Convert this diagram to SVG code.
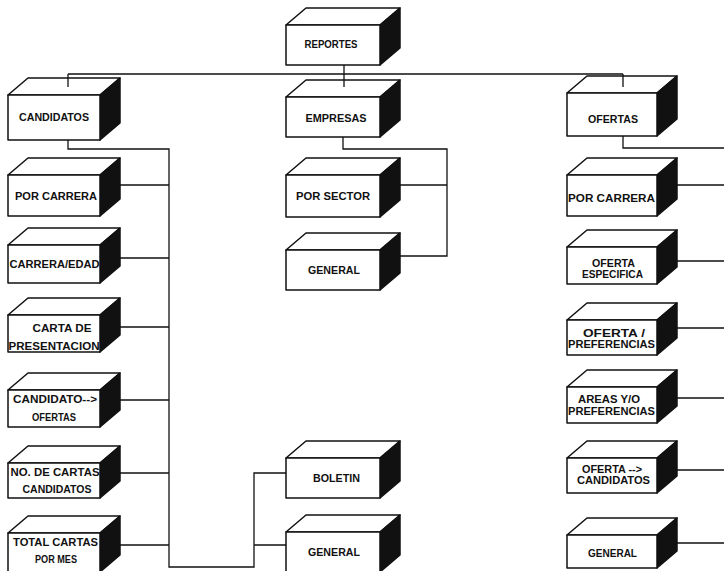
<svg xmlns="http://www.w3.org/2000/svg" width="724" height="571" viewBox="0 0 724 571">
  <style>
    .face { fill: #ffffff; stroke: #111111; stroke-width: 1.5; stroke-linejoin: round; }
    .side { fill: #111111; stroke: #111111; stroke-width: 1.5; stroke-linejoin: round; }
    .wire { fill: none; stroke: #111111; stroke-width: 1.3; }
    text { font-family: "Liberation Sans", Arial, sans-serif; font-weight: bold; font-size: 11.5px; fill: #111111; text-anchor: middle; }
  </style>
  <rect width="724" height="571" fill="#ffffff"/>

  <!-- boxes: front rect, top face, black right face (depth 20 x 17) -->
  <g id="reportes">
    <polygon class="face" points="286,25 306,8 400,8 380,25"/>
    <polygon class="side" points="380,25 400,8 400,48 380,65"/>
    <rect class="face" x="286" y="25" width="94" height="40"/>
    <text x="331" y="48" textLength="53" lengthAdjust="spacingAndGlyphs">REPORTES</text>
  </g>

  <!-- left column -->
  <g id="candidatos">
    <polygon class="face" points="8,95 28,78 120,78 100,95"/>
    <polygon class="side" points="100,95 120,78 120,123 100,140"/>
    <rect class="face" x="8" y="95" width="92" height="45"/>
    <text x="54" y="121" textLength="70" lengthAdjust="spacingAndGlyphs">CANDIDATOS</text>
  </g>
  <g id="cand-por-carrera">
    <polygon class="face" points="8,175 28,158 120,158 100,175"/>
    <polygon class="side" points="100,175 120,158 120,199 100,216"/>
    <rect class="face" x="8" y="175" width="92" height="41"/>
    <text x="56" y="200" textLength="82" lengthAdjust="spacingAndGlyphs">POR CARRERA</text>
  </g>
  <g id="carrera-edad">
    <polygon class="face" points="8,245 28,228 120,228 100,245"/>
    <polygon class="side" points="100,245 120,228 120,266 100,283"/>
    <rect class="face" x="8" y="245" width="92" height="38"/>
    <text x="54.5" y="268" textLength="90" lengthAdjust="spacingAndGlyphs">CARRERA/EDAD</text>
  </g>
  <g id="carta-presentacion">
    <polygon class="face" points="8,315 28,298 120,298 100,315"/>
    <polygon class="side" points="100,315 120,298 120,335 100,352"/>
    <rect class="face" x="8" y="315" width="92" height="37"/>
    <text x="62" y="332" textLength="59" lengthAdjust="spacingAndGlyphs">CARTA DE</text>
    <text x="54" y="350" textLength="91" lengthAdjust="spacingAndGlyphs">PRESENTACION</text>
  </g>
  <g id="candidato-ofertas">
    <polygon class="face" points="8,390 28,373 120,373 100,390"/>
    <polygon class="side" points="100,390 120,373 120,410 100,427"/>
    <rect class="face" x="8" y="390" width="92" height="37"/>
    <text x="55" y="403" textLength="84" lengthAdjust="spacingAndGlyphs">CANDIDATO--&gt;</text>
    <text x="54" y="421" textLength="44" lengthAdjust="spacingAndGlyphs">OFERTAS</text>
  </g>
  <g id="no-cartas">
    <polygon class="face" points="8,463 28,446 120,446 100,463"/>
    <polygon class="side" points="100,463 120,446 120,481 100,498"/>
    <rect class="face" x="8" y="463" width="92" height="35"/>
    <text x="55" y="476" textLength="89" lengthAdjust="spacingAndGlyphs">NO. DE CARTAS</text>
    <text x="57" y="493" textLength="69" lengthAdjust="spacingAndGlyphs">CANDIDATOS</text>
  </g>
  <g id="total-cartas">
    <polygon class="face" points="8,533 28,516 120,516 100,533"/>
    <polygon class="side" points="100,533 120,516 120,555 100,572"/>
    <rect class="face" x="8" y="533" width="92" height="39"/>
    <text x="55.5" y="546" textLength="85" lengthAdjust="spacingAndGlyphs">TOTAL CARTAS</text>
    <text x="56" y="563" textLength="42" lengthAdjust="spacingAndGlyphs">POR MES</text>
  </g>

  <!-- middle column -->
  <g id="empresas">
    <polygon class="face" points="286,97 306,80 400,80 380,97"/>
    <polygon class="side" points="380,97 400,80 400,120 380,137"/>
    <rect class="face" x="286" y="97" width="94" height="40"/>
    <text x="336" y="122" textLength="61" lengthAdjust="spacingAndGlyphs">EMPRESAS</text>
  </g>
  <g id="por-sector">
    <polygon class="face" points="286,175 306,158 400,158 380,175"/>
    <polygon class="side" points="380,175 400,158 400,200 380,217"/>
    <rect class="face" x="286" y="175" width="94" height="42"/>
    <text x="333" y="200" textLength="74" lengthAdjust="spacingAndGlyphs">POR SECTOR</text>
  </g>
  <g id="emp-general">
    <polygon class="face" points="286,250 306,233 400,233 380,250"/>
    <polygon class="side" points="380,250 400,233 400,273 380,290"/>
    <rect class="face" x="286" y="250" width="94" height="40"/>
    <text x="334" y="274" textLength="52" lengthAdjust="spacingAndGlyphs">GENERAL</text>
  </g>
  <g id="boletin">
    <polygon class="face" points="286,458 306,441 400,441 380,458"/>
    <polygon class="side" points="380,458 400,441 400,481 380,498"/>
    <rect class="face" x="286" y="458" width="94" height="40"/>
    <text x="336.5" y="482" textLength="47" lengthAdjust="spacingAndGlyphs">BOLETIN</text>
  </g>
  <g id="bol-general">
    <polygon class="face" points="286,532 306,515 400,515 380,532"/>
    <polygon class="side" points="380,532 400,515 400,555 380,572"/>
    <rect class="face" x="286" y="532" width="94" height="40"/>
    <text x="334" y="556" textLength="52" lengthAdjust="spacingAndGlyphs">GENERAL</text>
  </g>

  <!-- right column -->
  <g id="ofertas">
    <polygon class="face" points="567,93 587,76 677,76 657,93"/>
    <polygon class="side" points="657,93 677,76 677,119 657,136"/>
    <rect class="face" x="567" y="93" width="90" height="43"/>
    <text x="613" y="123" textLength="50" lengthAdjust="spacingAndGlyphs">OFERTAS</text>
  </g>
  <g id="of-por-carrera">
    <polygon class="face" points="567,175 587,158 677,158 657,175"/>
    <polygon class="side" points="657,175 677,158 677,199 657,216"/>
    <rect class="face" x="567" y="175" width="90" height="41"/>
    <text x="611.5" y="202" textLength="87" lengthAdjust="spacingAndGlyphs">POR CARRERA</text>
  </g>
  <g id="oferta-especifica">
    <polygon class="face" points="567,247 587,230 677,230 657,247"/>
    <polygon class="side" points="657,247 677,230 677,267 657,284"/>
    <rect class="face" x="567" y="247" width="90" height="37"/>
    <text x="613.5" y="267" textLength="43" lengthAdjust="spacingAndGlyphs">OFERTA</text>
    <text x="612.5" y="278" textLength="61" lengthAdjust="spacingAndGlyphs">ESPECIFICA</text>
  </g>
  <g id="oferta-preferencias">
    <polygon class="face" points="567,320 587,303 677,303 657,320"/>
    <polygon class="side" points="657,320 677,303 677,338 657,355"/>
    <rect class="face" x="567" y="320" width="90" height="35"/>
    <text x="614" y="337" textLength="62" lengthAdjust="spacingAndGlyphs">OFERTA /</text>
    <text x="611.5" y="348" textLength="87" lengthAdjust="spacingAndGlyphs">PREFERENCIAS</text>
  </g>
  <g id="areas-preferencias">
    <polygon class="face" points="567,387 587,370 677,370 657,387"/>
    <polygon class="side" points="657,387 677,370 677,406 657,423"/>
    <rect class="face" x="567" y="387" width="90" height="36"/>
    <text x="609" y="403" textLength="62" lengthAdjust="spacingAndGlyphs">AREAS Y/O</text>
    <text x="611.5" y="415" textLength="87" lengthAdjust="spacingAndGlyphs">PREFERENCIAS</text>
  </g>
  <g id="oferta-candidatos">
    <polygon class="face" points="567,458 587,441 677,441 657,458"/>
    <polygon class="side" points="657,458 677,441 677,476 657,493"/>
    <rect class="face" x="567" y="458" width="90" height="35"/>
    <text x="612" y="473" textLength="60" lengthAdjust="spacingAndGlyphs">OFERTA --&gt;</text>
    <text x="613.5" y="484" textLength="73" lengthAdjust="spacingAndGlyphs">CANDIDATOS</text>
  </g>
  <g id="of-general">
    <polygon class="face" points="567,535 587,518 677,518 657,535"/>
    <polygon class="side" points="657,535 677,518 677,551 657,568"/>
    <rect class="face" x="567" y="535" width="90" height="33"/>
    <text x="612.5" y="557" textLength="49" lengthAdjust="spacingAndGlyphs">GENERAL</text>
  </g>

  <!-- connectors -->
  <g id="connectors">
    <!-- root to the three branches -->
    <path class="wire" d="M344,65 V87 M68,74 H623 M68,74 V87 M623,74 V87"/>
    <!-- candidatos branch -->
    <path class="wire" d="M68,140 V149 H169 V567 H254 V473 H286 M254,545 H286"/>
    <path class="wire" d="M120,185 H169 M120,258 H169 M120,327 H169 M120,400 H169 M120,473 H169 M120,545 H169"/>
    <!-- empresas branch -->
    <path class="wire" d="M343,137 V149 H447 V256 H400 M400,185 H447"/>
    <!-- ofertas branch -->
    <path class="wire" d="M623,136 V148 H724"/>
    <path class="wire" d="M677,185 H724 M677,261 H724 M677,328 H724 M677,398 H724 M677,470 H724 M677,543 H724"/>
  </g>
</svg>
